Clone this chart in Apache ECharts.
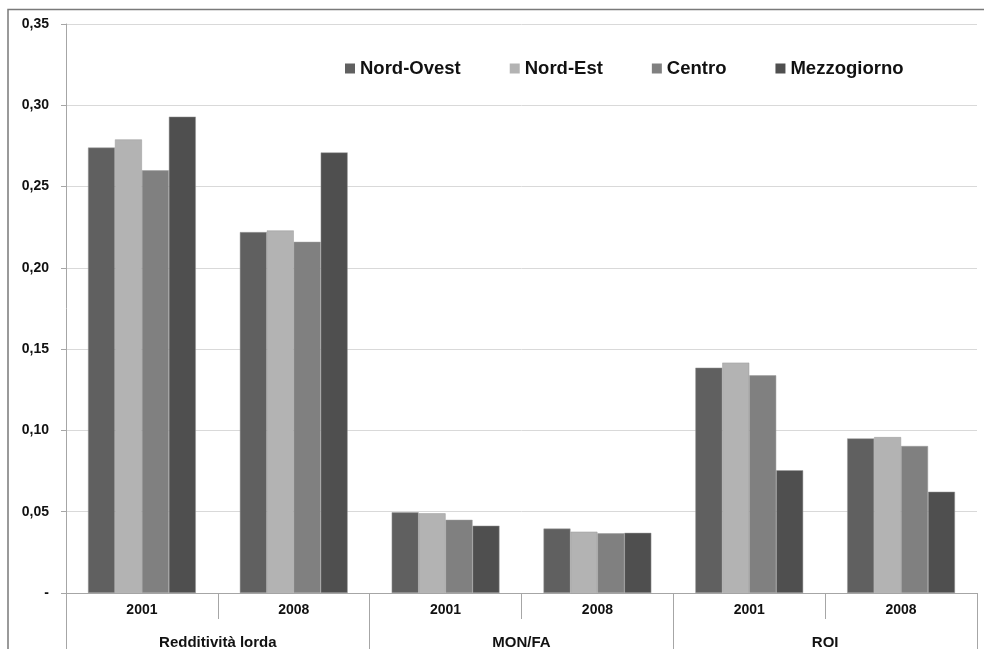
<!DOCTYPE html>
<html>
<head>
<meta charset="utf-8">
<script src="https://cdn.jsdelivr.net/npm/echarts@6/dist/echarts.min.js"></script>
<style>html,body{margin:0;padding:0;background:#fff;}#c{width:984px;height:649px;}</style>
</head>
<body>
<div id="c"></div>
<script>
const years = ['2001','2008','2001','2008','2001','2008'];
const groups = ['Redditività lorda','MON/FA','ROI'];
const seriesNames = ['Nord-Ovest','Nord-Est','Centro','Mezzogiorno'];
const nordOvest = [0.274, 0.222, 0.0496, 0.0396, 0.1386, 0.0951];
const nordEst = [0.279, 0.223, 0.0490, 0.0377, 0.1417, 0.0959];
const centro = [0.260, 0.216, 0.0450, 0.0367, 0.1339, 0.0904];
const mezzogiorno = [0.293, 0.271, 0.0414, 0.0370, 0.0755, 0.0623];
const colors = ['#606060','#b3b3b3','#808080','#4f4f4f'];
const values = [nordOvest, nordEst, centro, mezzogiorno];
const FONT = 'Liberation Sans, Arial, sans-serif';

const chart = echarts.init(document.getElementById('c'), null, {renderer:'canvas'});
chart.setOption({
  animation:false,
  textStyle:{fontFamily:FONT},
  graphic:[{type:'rect', shape:{x:8, y:9.5, width:1200, height:1200}, style:{fill:'none', stroke:'#7a7a7a', lineWidth:1.5}, z:-1}],
  grid:{left:66, right:7, top:24, bottom:56, containLabel:false, outerBoundsMode:'none'},
  legend:{
    data:seriesNames, left:340, top:54, itemWidth:10, itemHeight:10, itemGap:49,
    icon:'rect',
    itemStyle:{borderWidth:0},
    textStyle:{fontSize:18.5, fontWeight:'bold', color:'#111', fontFamily:FONT}
  },
  xAxis:[{
    type:'category', data:years, position:'bottom',
    axisLine:{show:true, lineStyle:{color:'#a6a6a6', width:1}},
    axisTick:{show:true, interval:0, length:26, lineStyle:{color:'#a6a6a6'}},
    axisLabel:{interval:0, margin:10, fontSize:14, fontWeight:'bold', color:'#111', fontFamily:FONT}
  },{
    type:'category', data:groups, position:'bottom', offset:0,
    axisLine:{show:false},
    axisTick:{show:true, interval:0, length:60, lineStyle:{color:'#a6a6a6'}},
    axisLabel:{interval:0, margin:42, fontSize:15, fontWeight:'bold', color:'#111', fontFamily:FONT}
  }],
  yAxis:{
    type:'value', min:0, max:0.35, interval:0.05,
    axisLine:{show:true, lineStyle:{color:'#a6a6a6'}},
    axisTick:{show:true, length:5, lineStyle:{color:'#a6a6a6'}},
    splitLine:{lineStyle:{color:'#d9d9d9'}},
    axisLabel:{margin:17, fontSize:14, fontWeight:'bold', color:'#111', fontFamily:FONT,
      formatter:v => Math.abs(v) < 1e-9 ? '-' : v.toFixed(2).replace('.', ',')}
  },
  series:seriesNames.map((n,i)=>({
    name:n, type:'bar', xAxisIndex:0, data:values[i],
    barGap:'0%', barCategoryGap:'29%',
    itemStyle:{color:colors[i], borderColor:'#9a9a9a', borderWidth:0.5}
  }))
});
</script>
</body>
</html>
